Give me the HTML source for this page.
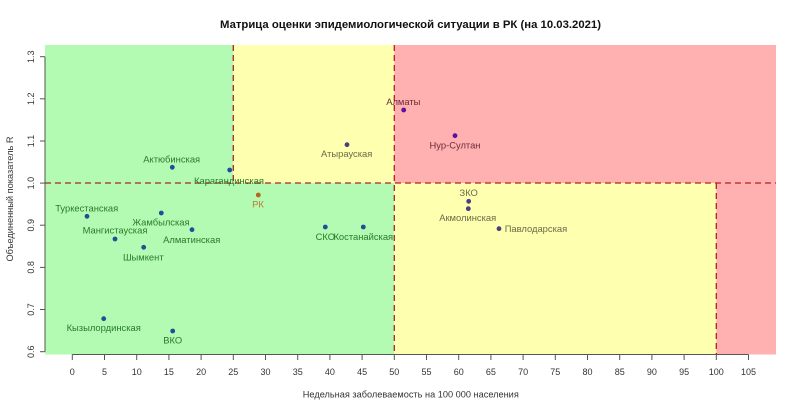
<!DOCTYPE html>
<html><head><meta charset="utf-8"><style>
html,body{margin:0;padding:0;background:#fff;}
svg{display:block;}
text{font-family:"Liberation Sans",Arial,sans-serif;}
</style></head><body>
<svg width="800" height="412" viewBox="0 0 800 412" xmlns="http://www.w3.org/2000/svg">
<rect width="800" height="412" fill="#fff"/>
<text x="410.5" y="28" text-anchor="middle" font-size="11" font-weight="bold" fill="#111" textLength="381" lengthAdjust="spacingAndGlyphs">Матрица оценки эпидемиологической ситуации в РК (на 10.03.2021)</text>

<!-- regions -->
<rect x="45" y="45" width="188.3" height="138" fill="#b3fbb3"/>
<rect x="233.3" y="45" width="161" height="138" fill="#ffffb0"/>
<rect x="394.3" y="45" width="381.7" height="138" fill="#ffb0b0"/>
<rect x="45" y="183" width="349.3" height="171.5" fill="#b3fbb3"/>
<rect x="394.3" y="183" width="322" height="171.5" fill="#ffffb0"/>
<rect x="716.3" y="183" width="59.7" height="171.5" fill="#ffb0b0"/>

<!-- dashed lines -->
<g stroke="#b22222" stroke-width="1.3" stroke-dasharray="6,4" fill="none">
<line x1="233.3" y1="45" x2="233.3" y2="183"/>
<line x1="394.3" y1="45" x2="394.3" y2="354"/>
<line x1="45" y1="183" x2="776" y2="183"/>
<line x1="716.3" y1="183" x2="716.3" y2="354"/>
</g>

<!-- axes -->
<g stroke="#555" stroke-width="1">
<line x1="45" y1="56.7" x2="45" y2="351.7"/>
<line x1="40" y1="56.7" x2="45" y2="56.7"/>
<line x1="40" y1="98.8" x2="45" y2="98.8"/>
<line x1="40" y1="141" x2="45" y2="141"/>
<line x1="40" y1="183.1" x2="45" y2="183.1"/>
<line x1="40" y1="225.2" x2="45" y2="225.2"/>
<line x1="40" y1="267.4" x2="45" y2="267.4"/>
<line x1="40" y1="309.5" x2="45" y2="309.5"/>
<line x1="40" y1="351.7" x2="45" y2="351.7"/>
<line x1="72.3" y1="354.5" x2="748.5" y2="354.5"/>
</g>
<g stroke="#555" stroke-width="1">
<line x1="72.3" y1="354.5" x2="72.3" y2="360"/><line x1="104.5" y1="354.5" x2="104.5" y2="360"/>
<line x1="136.7" y1="354.5" x2="136.7" y2="360"/><line x1="168.9" y1="354.5" x2="168.9" y2="360"/>
<line x1="201.1" y1="354.5" x2="201.1" y2="360"/><line x1="233.3" y1="354.5" x2="233.3" y2="360"/>
<line x1="265.5" y1="354.5" x2="265.5" y2="360"/><line x1="297.7" y1="354.5" x2="297.7" y2="360"/>
<line x1="329.9" y1="354.5" x2="329.9" y2="360"/><line x1="362.1" y1="354.5" x2="362.1" y2="360"/>
<line x1="394.3" y1="354.5" x2="394.3" y2="360"/><line x1="426.5" y1="354.5" x2="426.5" y2="360"/>
<line x1="458.7" y1="354.5" x2="458.7" y2="360"/><line x1="490.9" y1="354.5" x2="490.9" y2="360"/>
<line x1="523.1" y1="354.5" x2="523.1" y2="360"/><line x1="555.3" y1="354.5" x2="555.3" y2="360"/>
<line x1="587.5" y1="354.5" x2="587.5" y2="360"/><line x1="619.7" y1="354.5" x2="619.7" y2="360"/>
<line x1="651.9" y1="354.5" x2="651.9" y2="360"/><line x1="684.1" y1="354.5" x2="684.1" y2="360"/>
<line x1="716.3" y1="354.5" x2="716.3" y2="360"/><line x1="748.5" y1="354.5" x2="748.5" y2="360"/>
</g>
<g font-size="9" fill="#333" text-anchor="middle">
<text x="72.3" y="374.8">0</text><text x="104.5" y="374.8">5</text><text x="136.7" y="374.8">10</text>
<text x="168.9" y="374.8">15</text><text x="201.1" y="374.8">20</text><text x="233.3" y="374.8">25</text>
<text x="265.5" y="374.8">30</text><text x="297.7" y="374.8">35</text><text x="329.9" y="374.8">40</text>
<text x="362.1" y="374.8">45</text><text x="394.3" y="374.8">50</text><text x="426.5" y="374.8">55</text>
<text x="458.7" y="374.8">60</text><text x="490.9" y="374.8">65</text><text x="523.1" y="374.8">70</text>
<text x="555.3" y="374.8">75</text><text x="587.5" y="374.8">80</text><text x="619.7" y="374.8">85</text>
<text x="651.9" y="374.8">90</text><text x="684.1" y="374.8">95</text><text x="716.3" y="374.8">100</text>
<text x="748.5" y="374.8">105</text>
</g>
<g font-size="9" fill="#333" text-anchor="middle">
<text transform="translate(33.8,56.7) rotate(-90)">1.3</text>
<text transform="translate(33.8,98.8) rotate(-90)">1.2</text>
<text transform="translate(33.8,141) rotate(-90)">1.1</text>
<text transform="translate(33.8,183.1) rotate(-90)">1.0</text>
<text transform="translate(33.8,225.2) rotate(-90)">0.9</text>
<text transform="translate(33.8,267.4) rotate(-90)">0.8</text>
<text transform="translate(33.8,309.5) rotate(-90)">0.7</text>
<text transform="translate(33.8,351.7) rotate(-90)">0.6</text>
</g>
<text transform="translate(13.2,199) rotate(-90)" font-size="9" fill="#333" text-anchor="middle" textLength="125" lengthAdjust="spacingAndGlyphs">Объединенный показатель R</text>
<text x="410.8" y="397.3" font-size="9" fill="#333" text-anchor="middle" textLength="216" lengthAdjust="spacingAndGlyphs">Недельная заболеваемость на 100 000 населения</text>

<!-- points -->
<g fill="#1f4f96">
<circle cx="172.3" cy="167.3" r="2.4"/><circle cx="229.7" cy="170" r="2.4"/>
<circle cx="87" cy="216.3" r="2.4"/><circle cx="161.3" cy="213" r="2.4"/>
<circle cx="192" cy="229.7" r="2.4"/><circle cx="115" cy="239" r="2.4"/>
<circle cx="143.7" cy="247.3" r="2.4"/><circle cx="325.3" cy="227" r="2.4"/>
<circle cx="363.3" cy="227" r="2.4"/><circle cx="103.7" cy="318.7" r="2.4"/>
<circle cx="172.7" cy="331" r="2.4"/>
</g>
<circle cx="258.3" cy="195" r="2.4" fill="#b5651d"/>
<g fill="#4a3f80">
<circle cx="347" cy="144.7" r="2.4"/><circle cx="468.7" cy="201.3" r="2.4"/>
<circle cx="468.3" cy="208.7" r="2.4"/><circle cx="499" cy="228.7" r="2.4"/>
</g>
<g fill="#5a12a0">
<circle cx="403.7" cy="110" r="2.4"/><circle cx="455" cy="135.7" r="2.4"/>
</g>

<!-- labels -->
<g font-size="9.4" fill="#2a7a2a" text-anchor="middle">
<text x="171.7" y="162.3">Актюбинская</text>
<text x="229" y="184">Карагандинская</text>
<text x="86.7" y="211.3">Туркестанская</text>
<text x="161" y="225.3">Жамбылская</text>
<text x="191.7" y="243">Алматинская</text>
<text x="115" y="233.6">Мангистауская</text>
<text x="143.3" y="260.3">Шымкент</text>
<text x="325.3" y="240">СКО</text>
<text x="363.3" y="240">Костанайская</text>
<text x="103.7" y="331">Кызылординская</text>
<text x="172.7" y="343.3">ВКО</text>
</g>
<text x="258" y="207.3" font-size="9.4" fill="#c07830" text-anchor="middle">РК</text>
<g font-size="9.4" fill="#6b6b48" text-anchor="middle">
<text x="346.7" y="157">Атырауская</text>
<text x="468.7" y="196">ЗКО</text>
<text x="467.7" y="221">Акмолинская</text>
<text x="504.7" y="232" text-anchor="start">Павлодарская</text>
</g>
<g font-size="9.4" fill="#6e2a36" text-anchor="middle">
<text x="403.3" y="105">Алматы</text>
<text x="455" y="148.3">Нур-Султан</text>
</g>
</svg>
</body></html>
